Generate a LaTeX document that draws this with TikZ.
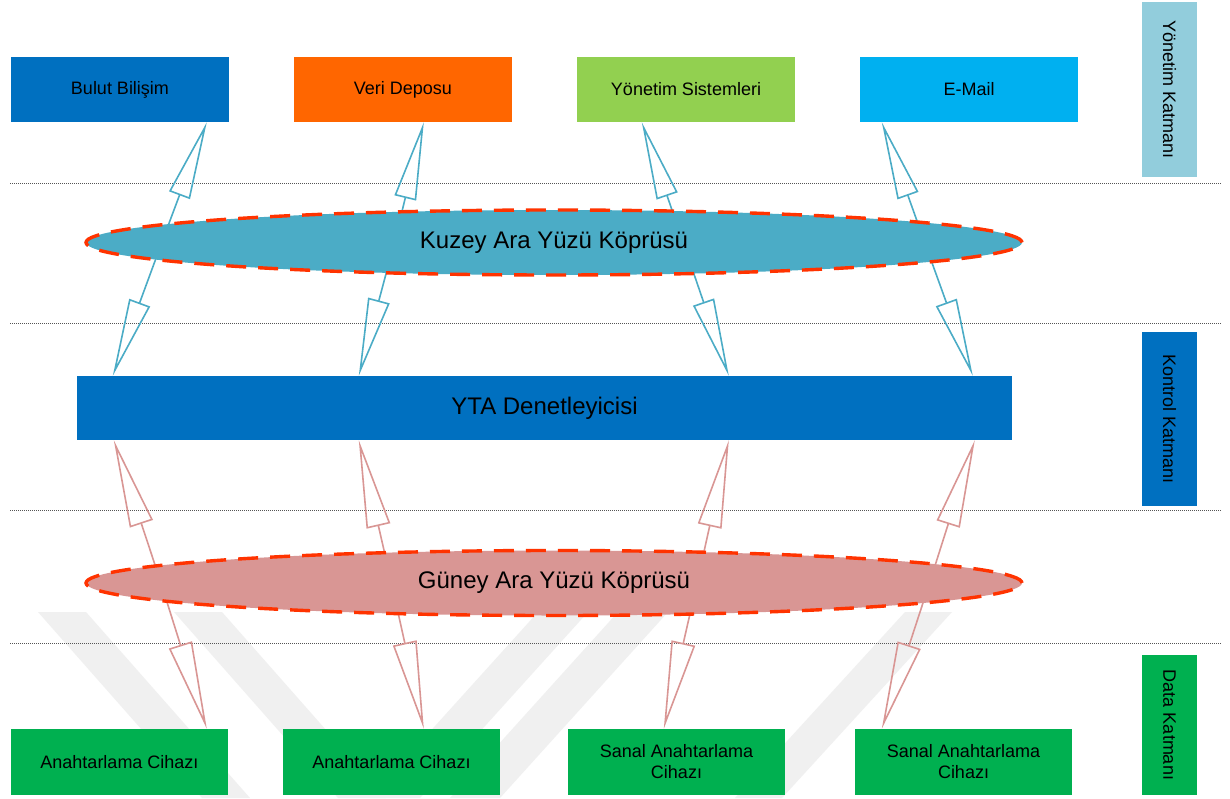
\documentclass[tikz,border=0pt]{standalone}
\usepackage{fontspec}
\setmainfont{Liberation Sans}
\usetikzlibrary{shapes.geometric,arrows.meta,backgrounds}

\definecolor{boxblue}{HTML}{0070C0}
\definecolor{boxorange}{HTML}{FF6600}
\definecolor{boxlime}{HTML}{92D050}
\definecolor{boxsky}{HTML}{00B0F0}
\definecolor{boxgreen}{HTML}{00B050}
\definecolor{layerpale}{HTML}{92CDDC}
\definecolor{northfill}{HTML}{4BACC6}
\definecolor{southfill}{HTML}{D99694}
\definecolor{rimred}{HTML}{FF3300}
\definecolor{wmgray}{HTML}{F0F0F0}
\definecolor{sepgray}{HTML}{555555}

\tikzset{
  smalltext/.style={font=\fontsize{18}{21}\selectfont},
  bigtext/.style={font=\fontsize{24}{28}\selectfont},
  topbox/.style={fill=#1, minimum width=218pt, minimum height=65pt, inner sep=0pt, smalltext},
  devbox/.style={fill=boxgreen, minimum width=217pt, minimum height=66pt, inner sep=0pt,
                 align=center, smalltext},
  layerbox/.style={fill=#1, rotate=-90, minimum height=55pt, inner sep=0pt, smalltext},
  ctrlbox/.style={fill=boxblue, minimum width=935pt, minimum height=64pt, inner sep=0pt, bigtext},
  bridge/.style={ellipse, fill=#1, draw=rimred, line width=3.4pt, dash pattern=on 20pt off 12pt,
                 minimum width=936pt, minimum height=65pt, inner sep=0pt, bigtext},
  sepline/.style={draw=sepgray, line width=0.9pt, dash pattern=on 1pt off 1pt},
  northlink/.style={draw=northfill, line width=1.6pt, -{Triangle[open, length=78pt, width=22pt]}},
  southlink/.style={draw=southfill, line width=1.6pt, -{Triangle[open, length=88pt, width=24pt]}},
  mark band/.style={fill=wmgray, draw=none}
}

\begin{document}
\begin{tikzpicture}[x=1pt, y=-1pt]
  \useasboundingbox (0,0) rectangle (1230,798);

  % management layer services
  \node[topbox=boxblue]   (bulut) at (120,89.5) {Bulut Bilişim};
  \node[topbox=boxorange] (veri)  at (403,89.5) {Veri Deposu};
  \node[topbox=boxlime]   (ysis)  at (686,89.5) {Yönetim Sistemleri};
  \node[topbox=boxsky]    (email) at (969,89.5) {E-Mail};

  % controller
  \node[ctrlbox] (yta) at (544.5,408) {YTA Denetleyicisi};

  % north and south bridges
  \node[bridge=northfill] (kuzey) at (554,242.5) {Kuzey Ara Yüzü Köprüsü};
  \node[bridge=southfill] (guney) at (554,583)   {Güney Ara Yüzü Köprüsü};

  % data layer devices
  \node[devbox] (dev1) at (119.5,762) {Anahtarlama Cihazı};
  \node[devbox] (dev2) at (391.5,762) {Anahtarlama Cihazı};
  \node[devbox] (dev3) at (676.5,762) {Sanal Anahtarlama\\Cihazı};
  \node[devbox] (dev4) at (963.5,762) {Sanal Anahtarlama\\Cihazı};

  % layer captions on the right
  \node[layerbox=layerpale, minimum width=175pt] (lyon)  at (1169.5,89.5) {Yönetim Katmanı};
  \node[layerbox=boxblue,   minimum width=174pt] (lkon)  at (1169.5,419)  {Kontrol Katmanı};
  \node[layerbox=boxgreen,  minimum width=140pt] (ldata) at (1169.5,725)  {Data Katmanı};

  % link ends on the bridge axes
  \coordinate (k1) at (162,242);
  \coordinate (k2) at (394.5,242);
  \coordinate (k3) at (683,242);
  \coordinate (k4) at (924.5,242);
  \coordinate (g1) at (161,583);
  \coordinate (g2) at (391.5,583);
  \coordinate (g3) at (697,583);
  \coordinate (g4) at (929.5,583);

  \begin{pgfonlayer}{background}
    \fill[white] (0,0) rectangle (1230,798);

    % faint chevron mark behind the lower part
    \fill[mark band] (38,612) -- (86,612) -- (250,798) -- (202,798) -- cycle;
    \fill[mark band] (174,612) -- (222,612) -- (386,798) -- (338,798) -- cycle;
    \fill[mark band] (538,612) -- (588,612) -- (420,798) -- (370,798) -- cycle;
    \fill[mark band] (618,612) -- (668,612) -- (500,798) -- (450,798) -- cycle;
    \fill[mark band] (905,612) -- (952,612) -- (782,798) -- (735,798) -- cycle;

    % layer separators
    \foreach \yy in {183,323,510,643}
      \draw[sepline] (10,\yy) -- (1222,\yy);

    % north bridge links
    \draw[northlink] (k1) -- ([xshift=196pt]bulut.south west);
    \draw[northlink] (k2) -- ([xshift=130pt]veri.south west);
    \draw[northlink] (k3) -- ([xshift=65pt]ysis.south west);
    \draw[northlink] (k4) -- ([xshift=22pt]email.south west);
    \draw[northlink] (k1) -- ([xshift=36pt]yta.north west);
    \draw[northlink] (k2) -- ([xshift=282pt]yta.north west);
    \draw[northlink] (k3) -- ([xshift=652pt]yta.north west);
    \draw[northlink] (k4) -- ([xshift=896pt]yta.north west);

    % south bridge links
    \draw[southlink] (g1) -- ([xshift=37pt]yta.south west);
    \draw[southlink] (g2) -- ([xshift=282pt]yta.south west);
    \draw[southlink] (g3) -- ([xshift=652pt]yta.south west);
    \draw[southlink] (g4) -- ([xshift=898pt]yta.south west);
    \draw[southlink] (g1) -- ([xshift=196pt]dev1.north west);
    \draw[southlink] (g2) -- ([xshift=141pt]dev2.north west);
    \draw[southlink] (g3) -- ([xshift=96pt]dev3.north west);
    \draw[southlink] (g4) -- ([xshift=27pt]dev4.north west);
  \end{pgfonlayer}
\end{tikzpicture}
\end{document}
